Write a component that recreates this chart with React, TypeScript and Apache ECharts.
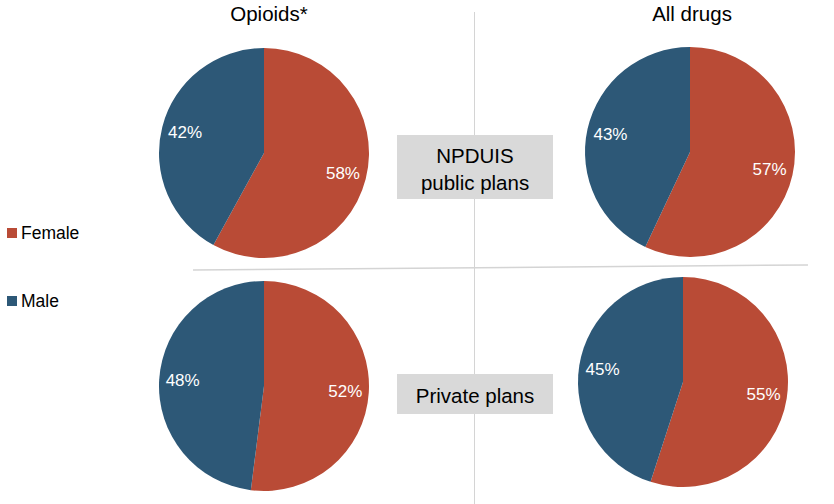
import React, { useEffect, useRef } from "react";
import * as echarts from "echarts";

const categories = ["Female", "Male"];
const opioidsPublic = [58, 42];
const allDrugsPublic = [57, 43];
const opioidsPrivate = [52, 48];
const allDrugsPrivate = [55, 45];
const columnTitles = ["Opioids*", "All drugs"];
const rowLabels = ["NPDUIS\npublic plans", "Private plans"];

const COLORS = ["#B94B36", "#2D5877"];
const FONT = "Liberation Sans, Arial, sans-serif";

export default function App() {
  const ref = useRef<HTMLDivElement>(null);
  useEffect(() => {
    if (!ref.current) return;
    const chart = echarts.init(ref.current, null, { renderer: "svg" });
    const pies = [
      { values: opioidsPublic, center: [264, 153] },
      { values: allDrugsPublic, center: [690, 152] },
      { values: opioidsPrivate, center: [264, 386] },
      { values: allDrugsPrivate, center: [683, 382] },
    ];
    const R = 105;
    const series: any[] = [];
    pies.forEach((p) => {
      const data = categories.map((c, i) => ({ name: c, value: p.values[i] }));
      series.push({
        type: "pie",
        center: p.center,
        radius: [0, R],
        startAngle: 90,
        clockwise: true,
        label: { show: false },
        labelLine: { show: false },
        silent: true,
        data,
      });
    });
    pies.forEach((p) => {
      const data = categories.map((c, i) => ({ name: c, value: p.values[i] }));
      series.push({
        type: "pie",
        center: p.center,
        radius: [52, R],
        startAngle: 90,
        clockwise: true,
        silent: true,
        itemStyle: { color: "rgba(0,0,0,0)" },
        label: {
          show: true,
          position: "inside",
          formatter: "{c}%",
          color: "#ffffff",
          fontSize: 17,
          fontFamily: FONT,
        },
        labelLine: { show: false },
        data,
      });
    });
    chart.setOption({
      animation: false,
      color: COLORS,
      title: [
        {
          text: columnTitles[0],
          left: 269,
          top: 3,
          padding: 0,
          textAlign: "center",
          textStyle: { fontSize: 20.5, fontWeight: "normal", color: "#000", fontFamily: FONT },
        },
        {
          text: columnTitles[1],
          left: 692,
          top: 3,
          padding: 0,
          textAlign: "center",
          textStyle: { fontSize: 20.5, fontWeight: "normal", color: "#000", fontFamily: FONT },
        },
      ],
      legend: {
        data: categories,
        orient: "vertical",
        left: 7,
        top: 224,
        padding: 0,
        itemWidth: 10,
        itemHeight: 10,
        itemGap: 50,
        icon: "rect",
        selectedMode: false,
        textStyle: { fontSize: 17.5, color: "#000", fontFamily: FONT, padding: [0, 0, 0, -1] },
      },
      graphic: [
        {
          type: "line",
          shape: { x1: 474.5, y1: 12, x2: 474.5, y2: 504 },
          style: { stroke: "#d4d4d4", lineWidth: 1 },
          z: 0,
        },
        {
          type: "line",
          shape: { x1: 193, y1: 270, x2: 808, y2: 265 },
          style: { stroke: "#d4d4d4", lineWidth: 1.5 },
          z: 0,
        },
        {
          type: "rect",
          shape: { x: 397, y: 135, width: 156, height: 64 },
          style: { fill: "#D9D9D9" },
          z: 5,
        },
        {
          type: "text",
          x: 475,
          y: 169,
          style: {
            text: rowLabels[0],
            fontSize: 20.5,
            fontFamily: FONT,
            fill: "#000",
            align: "center",
            verticalAlign: "middle",
            lineHeight: 27,
          },
          z: 6,
        },
        {
          type: "rect",
          shape: { x: 397, y: 374, width: 156, height: 40 },
          style: { fill: "#D9D9D9" },
          z: 5,
        },
        {
          type: "text",
          x: 475,
          y: 395,
          style: {
            text: rowLabels[1],
            fontSize: 20.5,
            fontFamily: FONT,
            fill: "#000",
            align: "center",
            verticalAlign: "middle",
          },
          z: 6,
        },
      ],
      series,
    });
    return () => chart.dispose();
  }, []);
  return <div ref={ref} style={{ width: 834, height: 504, position: "absolute", left: 0, top: 0 }} />;
}
